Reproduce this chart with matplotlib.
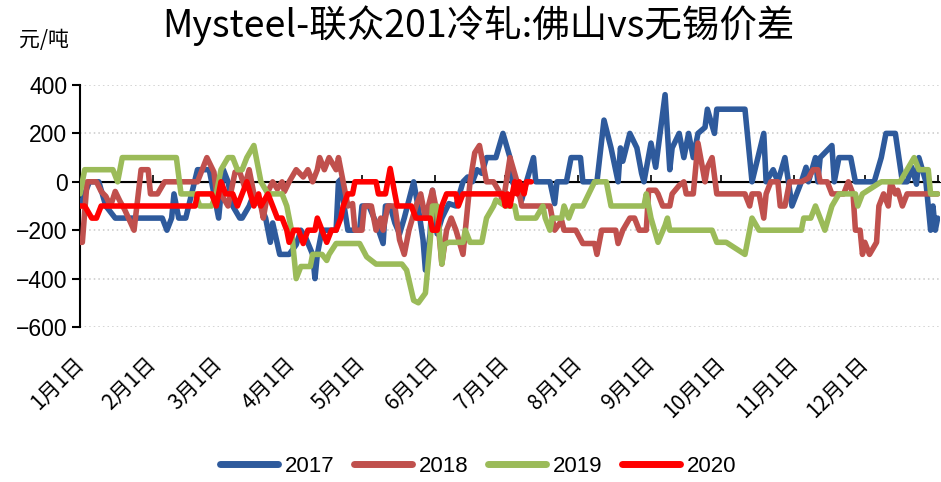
import matplotlib
matplotlib.use("Agg")
import matplotlib.pyplot as plt

plt.rcParams['font.family'] = ['Liberation Sans', 'Noto Sans CJK SC', 'DejaVu Sans']
plt.rcParams['axes.unicode_minus'] = True

# ---- data: day-of-year (0 = 1月1日) and price spread (元/吨) ----
days_2017 = [0, 4, 8, 11, 15, 35, 37, 39, 40, 42, 45, 50, 55, 59, 61, 63, 65, 68, 69, 72, 74, 77, 79,
             81, 82, 85, 89, 92, 94, 96, 99, 100, 101, 103, 109, 110, 111, 112, 114, 119, 120, 123, 126,
             129, 130, 132, 134, 136, 138, 142, 144, 146, 147, 149, 150, 152, 154, 157, 160, 163, 165,
             167, 169, 171, 173, 177, 180, 183, 184, 188, 190, 193, 194, 200, 202, 203, 207, 209, 213,
             214, 220, 223, 226, 229, 230, 231, 234, 237, 239, 240, 243, 245, 249, 251, 252, 255, 257,
             259, 260, 261, 263, 266, 267, 270, 271, 283, 286, 291, 292, 295, 297, 300, 303, 307, 309,
             310, 313, 314, 315, 320, 321, 323, 328, 330, 338, 341, 343, 347, 350, 352, 354, 356, 357,
             360, 362, 363, 364, 365]
vals_2017 = [-100, 0, 0, -100, -150, -150, -200, -150, -50, -150, -150, 50, 50, -150, 50, 0, -100, -150,
             -150, -100, -50, -100, -150, -250, -170, -300, -300, -260, -200, -230, -300, -400, -300,
             -200, -200, 0, 10, -75, -200, -200, -100, -100, -170, -255, -100, -100, -170, -215, -150,
             0, -110, -240, -365, -215, -35, -215, -150, -90, -100, 0, 20, 0, 50, 35, 100, 100, 200,
             100, 0, -75, 0, 100, 0, 0, -90, 0, 0, 100, 100, 0, 0, 255, 140, 0, 140, 85, 200, 140, 35,
             0, 160, 60, 360, 50, 140, 200, 100, 200, 150, 100, 200, 225, 300, 200, 300, 300, 0, 200,
             0, 50, 0, 100, -100, 0, 60, 0, 100, 0, 100, 150, 0, 100, 100, 0, 0, 100, 200, 200, 0, 0,
             60, -10, 100, 0, -200, -100, -200, -150]

days_2018 = [0, 1, 3, 7, 9, 11, 13, 15, 17, 19, 23, 26, 29, 30, 33, 36, 50, 54, 57, 58, 60, 63, 66, 68,
             70, 72, 74, 77, 78, 80, 82, 84, 86, 87, 89, 92, 95, 97, 99, 101, 102, 104, 106, 109, 110,
             112, 114, 116, 117, 120, 121, 124, 126, 128, 129, 131, 134, 136, 138, 140, 143, 145, 147,
             150, 152, 154, 156, 158, 160, 163, 165, 166, 168, 170, 173, 176, 179, 180, 183, 186, 188,
             194, 200, 202, 205, 206, 211, 214, 219, 220, 222, 228, 229, 231, 234, 236, 238, 241, 242,
             245, 246, 248, 251, 252, 255, 257, 258, 261, 263, 266, 267, 269, 271, 283, 285, 286, 289,
             291, 292, 294, 297, 298, 300, 302, 307, 310, 312, 314, 315, 318, 320, 325, 327, 329, 330,
             332, 333, 334, 336, 339, 340, 342, 344, 345, 347, 348, 350, 352, 365]
vals_2018 = [-250, -250, 0, 0, -40, -60, -100, -40, -80, -115, -200, 50, 50, -50, -50, 0, 0, 100, 40,
             -40, -50, -100, 40, 40, -20, 50, -50, -100, -150, -40, 0, -30, 0, -40, 0, 50, 20, 50, 0,
             50, 100, 50, 100, 50, 100, 0, -100, -90, -200, -200, -100, -100, -200, -150, -200, -100,
             -100, -240, -300, -200, -100, -50, -150, -35, -130, -340, -200, -150, -200, -300, -100, 0,
             120, 150, 0, 0, -50, -90, 100, 0, -100, -100, -100, -200, -160, -200, -200, -255, -255,
             -300, -200, -200, -255, -200, -150, -150, -200, -200, -35, -35, -50, -100, -100, -50, -15,
             0, -50, -50, 160, 0, 60, 100, -50, -50, -100, -50, -50, -150, -50, 0, 0, -100, -100, 0, 0,
             15, 50, 50, 0, 0, -50, -50, 0, -50, -200, -200, -300, -250, -300, -250, -100, -50, -100,
             0, -50, -35, -100, -50, -50]

days_2019 = [0, 2, 14, 16, 18, 41, 43, 49, 51, 56, 58, 60, 63, 65, 67, 69, 71, 74, 75, 77, 80, 86, 88,
             90, 92, 94, 98, 99, 103, 105, 106, 109, 119, 122, 126, 137, 139, 142, 144, 147, 149, 150,
             152, 154, 155, 157, 163, 164, 166, 171, 173, 176, 177, 181, 185, 186, 194, 197, 198, 200,
             201, 205, 206, 208, 210, 214, 219, 224, 226, 240, 241, 243, 246, 249, 250, 251, 269, 271,
             275, 283, 284, 286, 289, 307, 308, 311, 313, 315, 317, 320, 323, 330, 331, 333, 341, 349,
             352, 355, 357, 361, 362, 365]
vals_2019 = [-50, 50, 50, 0, 100, 100, -50, -50, -100, -100, -50, 50, 100, 100, 50, 50, 100, 150, 100,
             0, -50, -50, -100, -200, -400, -350, -350, -300, -300, -325, -300, -255, -255, -310, -340,
             -340, -365, -490, -500, -460, -250, -100, -100, -340, -260, -250, -250, -200, -250, -250,
             -150, -100, -75, -100, -100, -150, -150, -100, -150, -200, -150, -150, -100, -150, -100,
             -100, 0, 0, -100, -100, -50, -150, -250, -180, -150, -200, -200, -250, -250, -300, -250,
             -150, -200, -200, -150, -150, -100, -150, -200, -100, -50, -50, -100, -50, 0, 0, 50, 100,
             50, 50, -50, -50]

days_2020 = [0, 2, 5, 7, 9, 49, 50, 56, 58, 60, 62, 65, 67, 69, 71, 74, 76, 77, 80, 82, 84, 86, 88, 89,
             91, 93, 95, 97, 100, 101, 103, 105, 107, 109, 111, 112, 114, 116, 117, 126, 127, 130, 132,
             134, 135, 141, 143, 149, 150, 152, 153, 154, 156, 160, 161, 163, 180, 181, 182, 183, 185,
             186, 187, 189, 190, 192]
vals_2020 = [-100, -100, -150, -150, -100, -100, -50, -50, -100, 0, -50, -50, -100, -50, 0, -100, -50,
             -100, -50, -100, -150, -150, -200, -250, -200, -200, -255, -200, -200, -150, -200, -250,
             -200, -200, -150, -100, -50, -50, 0, 0, -50, -50, 55, -50, -100, -100, -150, -150, -200,
             -200, -150, -100, -50, -50, -100, -50, -50, -100, -50, -100, 0, -50, 0, -50, 0, 0]

series_names = ['2017', '2018', '2019', '2020']
series_colors = ['#2E5A9C', '#C0504D', '#9BBB59', '#FF0000']
month_starts = [0, 31, 59, 90, 120, 151, 181, 212, 243, 273, 304, 334]
month_labels = ['1月1日', '2月1日', '3月1日', '4月1日', '5月1日', '6月1日', '7月1日', '8月1日',
                '9月1日', '10月1日', '11月1日', '12月1日']
y_ticks = [-600, -400, -200, 0, 200, 400]

# ---- figure ----
W, H = 941, 482
fig = plt.figure(figsize=(W / 100, H / 100), dpi=100)
ax = fig.add_axes([80 / W, 1 - 327 / H, 860 / W, 242 / H])

all_days = [days_2017, days_2018, days_2019, days_2020]
all_vals = [vals_2017, vals_2018, vals_2019, vals_2020]
for d, v, name, c in zip(all_days, all_vals, series_names, series_colors):
    ax.plot(d, v, color=c, lw=4, label=name, solid_joinstyle='round', solid_capstyle='round', zorder=3)

ax.set_xlim(0, 366)
ax.set_ylim(-600, 400)
ax.set_yticks(y_ticks)
ax.yaxis.grid(True, linestyle=(0, (1, 2)), color='#C9C9C9', lw=1.1)
ax.set_axisbelow(True)
for s in ['top', 'right', 'bottom']:
    ax.spines[s].set_visible(False)
ax.spines['left'].set_linewidth(1.5)
ax.tick_params(axis='y', direction='out', length=6, width=1.5, labelsize=16.5, pad=3)

ax.set_xticks(month_starts)
ax.set_xticklabels(month_labels, rotation=45, ha='right', va='center', rotation_mode='anchor',
                   fontsize=15, family=['Noto Sans CJK SC', 'DejaVu Sans'])
ax.tick_params(axis='x', length=0, pad=24)

# zero line with month ticks
ax.axhline(0, color='black', lw=1.5, zorder=2)
sec = ax.secondary_xaxis(0.6)
sec.set_xticks(month_starts + [365])
sec.set_xticklabels([])
sec.tick_params(axis='x', direction='out', length=5, width=1.2, color='black')
sec.spines['bottom'].set_visible(False)

fig.text(478 / W, 1 - 26 / H, 'Mysteel-联众201冷轧:佛山vs无锡价差', ha='center', va='center',
         fontsize=27, family=['Noto Sans CJK SC', 'DejaVu Sans'])
fig.text(44 / W, 1 - 40 / H, '元/吨', ha='center', va='center', fontsize=15,
         family=['Noto Sans CJK SC', 'DejaVu Sans'])

leg = ax.legend(loc='center', bbox_to_anchor=(478 / W, 1 - 466 / H), bbox_transform=fig.transFigure,
                ncol=4, frameon=False, fontsize=16, handlelength=2.6, handletextpad=0.3,
                columnspacing=0.9)
for ln in leg.get_lines():
    ln.set_linewidth(5)

fig.savefig('out.png', dpi=100)
